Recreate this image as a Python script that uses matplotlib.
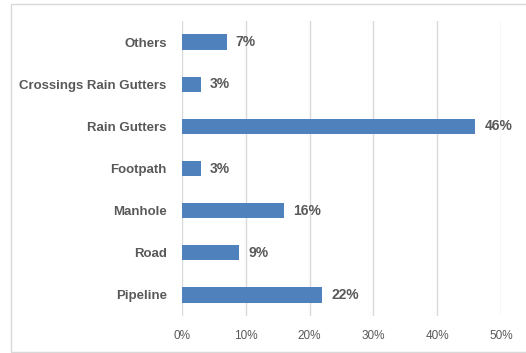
import matplotlib
matplotlib.use("Agg")
import matplotlib.pyplot as plt
from matplotlib.patches import Rectangle
from matplotlib.ticker import FuncFormatter

categories = ["Pipeline", "Road", "Manhole", "Footpath", "Rain Gutters",
              "Crossings Rain Gutters", "Others"]
shares = [22, 9, 16, 3, 46, 3, 7]
xticks = [0, 10, 20, 30, 40, 50]

bar_color = "#4F81BD"
text_color = "#595959"
grid_color = "#D9D9D9"
font = "Liberation Sans"

fig = plt.figure(figsize=(5.26, 3.53), dpi=100)
ax = fig.add_axes([182 / 526, 1 - 316 / 353, (501 - 182) / 526, (316 - 21) / 353])

# outer chart frame (right edge runs off the canvas)
fig.patches.append(Rectangle((11 / 526, 1 - 352 / 353), 1.1, (352 - 4) / 353,
                             transform=fig.transFigure, fill=False,
                             edgecolor=grid_color, linewidth=1.0))

y = range(len(categories))
ax.barh(y, shares, height=0.36, color=bar_color, zorder=3)
for yi, v in zip(y, shares):
    ax.text(v + 1.4, yi, f"{v}%", va="center", ha="left", fontsize=10,
            fontweight="bold", color=text_color, family=font)

ax.set_xlim(0, 50)
ax.set_ylim(-0.5, len(categories) - 0.5)
ax.set_xticks(xticks)
ax.xaxis.set_major_formatter(FuncFormatter(lambda v, _: f"{v:.0f}%"))
ax.set_yticks(list(y))
ax.set_yticklabels(categories)
for lbl in ax.get_yticklabels():
    lbl.set_fontweight("bold")
    lbl.set_fontsize(9.5)
    lbl.set_family(font)
    lbl.set_color(text_color)
for lbl in ax.get_xticklabels():
    lbl.set_fontsize(8.5)
    lbl.set_family(font)
    lbl.set_color(text_color)

ax.tick_params(axis="both", length=0)
ax.tick_params(axis="y", pad=11)
ax.tick_params(axis="x", pad=10)
ax.grid(axis="x", color=grid_color, linewidth=1.0, zorder=0)
for s in ax.spines.values():
    s.set_visible(False)

fig.savefig("out.png", dpi=100)
